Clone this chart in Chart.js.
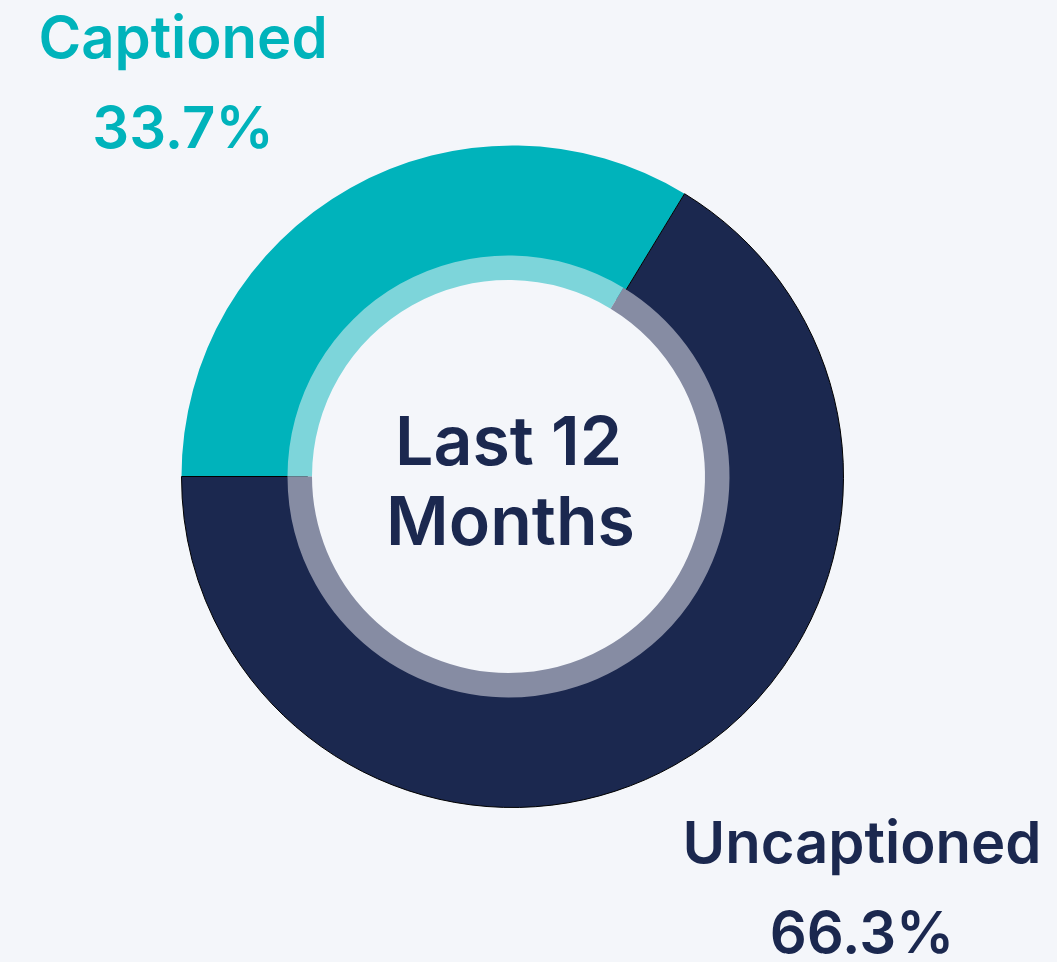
<!DOCTYPE html>
<html>
<head>
<meta charset="utf-8">
<script src="https://cdn.jsdelivr.net/npm/chart.js@4"></script>
<style>
  html, body { margin: 0; padding: 0; background: #f4f6fa; }
  #wrap { width: 1057px; height: 962px; position: relative; }
  #wrap canvas { position: absolute; left: 0; top: 0; }
</style>
</head>
<body>
<div id="wrap">
  <canvas id="outer" width="1057" height="962"></canvas>
  <canvas id="inner" width="1057" height="962"></canvas>
</div>
<script>
const categories = ["Captioned", "Uncaptioned"];
const shareValues = [33.7, 66.3];
const centerLines = ["Last 12", "Months"];

const mainColors = ["#00b3bb", "#1b284f"];
const innerColors = ["#7dd5da", "#868ca3"];
const FONT = "Inter, 'Noto Sans', sans-serif";

const labelPlugin = {
  id: "labels",
  afterDraw(chart) {
    const ctx = chart.ctx;
    const arc = chart.getDatasetMeta(0).data[0];
    const cx = arc.x, cy = arc.y;
    ctx.save();
    ctx.textAlign = "center";
    ctx.textBaseline = "alphabetic";
    ctx.fillStyle = mainColors[1];
    ctx.font = "600 68px " + FONT;
    ctx.fillText(centerLines[0], cx, cy - 12);
    ctx.fillText(centerLines[1], cx + 2, cy + 68);
    const pos = [[183, 58], [862, 863]];
    categories.forEach((cat, i) => {
      ctx.fillStyle = mainColors[i];
      ctx.font = "600 58px " + FONT;
      ctx.fillText(cat, pos[i][0], pos[i][1]);
      ctx.fillText(shareValues[i].toFixed(1) + "%", pos[i][0], pos[i][1] + 90);
    });
    ctx.restore();
  }
};

const common = {
  responsive: false,
  animation: false,
  rotation: 270,
  plugins: { legend: { display: false }, tooltip: { enabled: false } }
};

new Chart(document.getElementById("outer"), {
  type: "doughnut",
  data: {
    labels: categories,
    datasets: [{
      data: shareValues,
      backgroundColor: mainColors,
      borderColor: ["#00b3bb", "#000000"],
      borderWidth: [0, 1]
    }]
  },
  options: Object.assign({}, common, {
    cutout: 205,
    layout: { padding: { left: 181, right: 213, top: 145, bottom: 154 } }
  })
});

new Chart(document.getElementById("inner"), {
  type: "doughnut",
  data: {
    labels: categories,
    datasets: [{
      data: shareValues,
      backgroundColor: innerColors,
      borderWidth: 0
    }]
  },
  options: Object.assign({}, common, {
    cutout: 196.5,
    layout: { padding: { left: 287.5, right: 327.5, top: 255.5, bottom: 264.5 } }
  }),
  plugins: [labelPlugin]
});
</script>
</body>
</html>
